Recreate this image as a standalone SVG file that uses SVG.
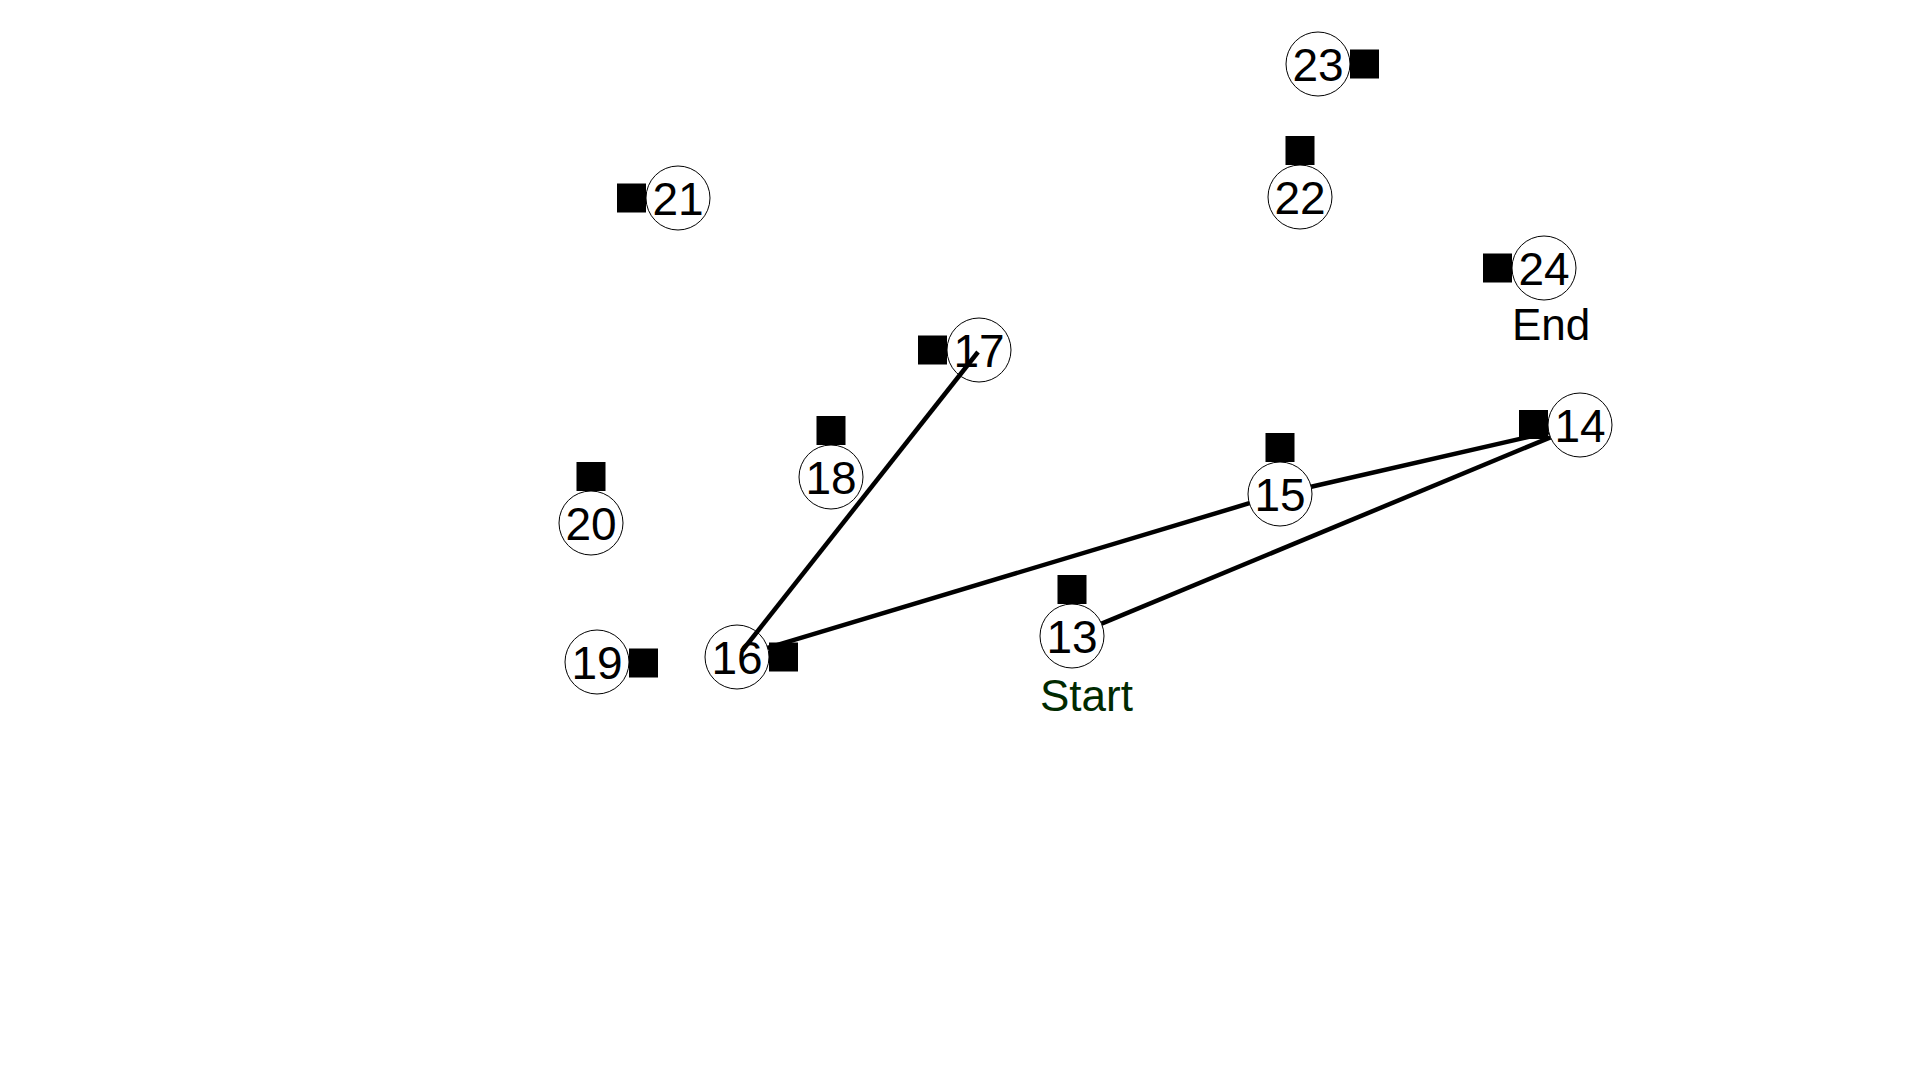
<svg xmlns="http://www.w3.org/2000/svg" width="1920" height="1080" viewBox="0 0 1920 1080">
<style>
.c{fill:#fff;stroke:#000;stroke-width:1}
.p{fill:#000}
.t{font-family:"Liberation Sans",Arial,sans-serif;font-size:46px;fill:#000;text-anchor:middle}
.l{font-family:"Liberation Sans",Arial,sans-serif;font-size:44px}
.e{stroke:#000;stroke-width:4.5;fill:none}
</style>
<rect width="1920" height="1080" fill="#fff"/>
<g id="n13"><circle class="c" cx="1072" cy="636" r="32"/><rect class="p" x="1057.5" y="575" width="29" height="29"/><text class="t" x="1072" y="652.5">13</text><text class="l" x="1040" y="711" fill="#002a00">Start</text></g>
<g id="n14"><circle class="c" cx="1580" cy="425" r="32"/><rect class="p" x="1519" y="410" width="29" height="29"/><text class="t" x="1580" y="441.5">14</text></g>
<g id="n15"><circle class="c" cx="1280" cy="494" r="32"/><rect class="p" x="1265.5" y="433" width="29" height="29"/><text class="t" x="1280" y="510.5">15</text></g>
<g id="n16"><circle class="c" cx="737" cy="657" r="32"/><rect class="p" x="769" y="642.5" width="29" height="29"/><text class="t" x="737" y="673.5">16</text></g>
<g id="n17"><circle class="c" cx="979" cy="350" r="32"/><rect class="p" x="918" y="335.5" width="29" height="29"/><text class="t" x="979" y="366.5">17</text></g>
<g id="n18"><circle class="c" cx="831" cy="477" r="32"/><rect class="p" x="816.5" y="416" width="29" height="29"/><text class="t" x="831" y="493.5">18</text></g>
<g id="n19"><circle class="c" cx="597" cy="662" r="32"/><rect class="p" x="629" y="648.5" width="29" height="29"/><text class="t" x="597" y="678.5">19</text></g>
<g id="n20"><circle class="c" cx="591" cy="523" r="32"/><rect class="p" x="576.5" y="462" width="29" height="29"/><text class="t" x="591" y="539.5">20</text></g>
<g id="n21"><circle class="c" cx="678" cy="198" r="32"/><rect class="p" x="617" y="183.5" width="29" height="29"/><text class="t" x="678" y="214.5">21</text></g>
<g id="n22"><circle class="c" cx="1300" cy="197" r="32"/><rect class="p" x="1285.5" y="136" width="29" height="29"/><text class="t" x="1300" y="213.5">22</text></g>
<g id="n23"><circle class="c" cx="1318" cy="64" r="32"/><rect class="p" x="1350" y="49.5" width="29" height="29"/><text class="t" x="1318" y="80.5">23</text></g>
<g id="n24"><circle class="c" cx="1544" cy="268" r="32"/><rect class="p" x="1483" y="253.5" width="29" height="29"/><text class="t" x="1544" y="284.5">24</text><text class="l" x="1512" y="340" fill="#000">End</text></g>
<g id="connectors">
<line class="e" x1="767.6" y1="647.8" x2="1249.4" y2="503.2"/>
<line class="e" x1="1311.2" y1="486.8" x2="1548.8" y2="432.2"/>
<line class="e" x1="1101.6" y1="623.7" x2="1550.4" y2="437.3"/>
<line class="e" x1="742" y1="651" x2="978" y2="352"/>
</g>
</svg>
